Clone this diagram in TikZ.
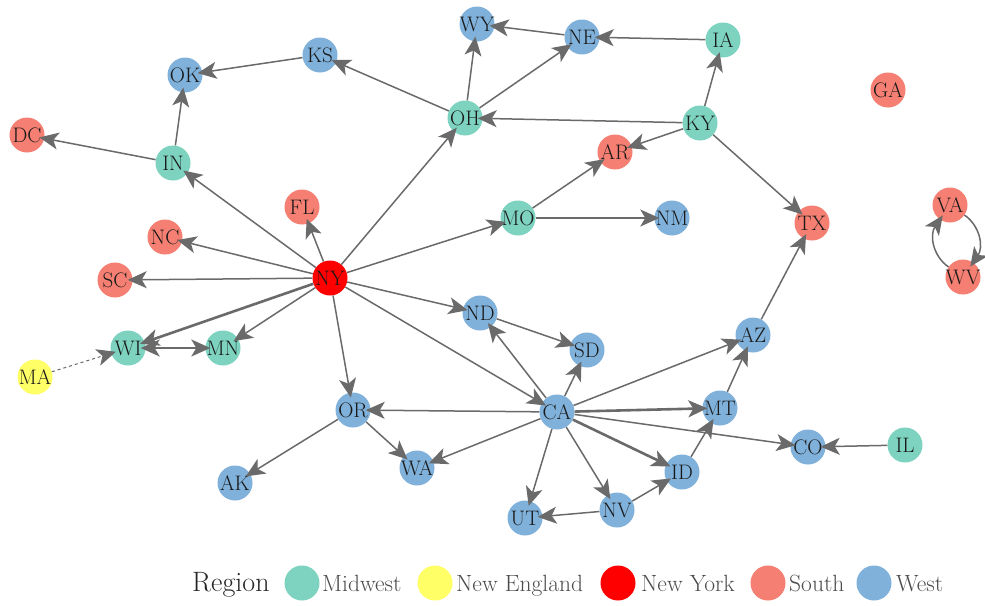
\documentclass[tikz,border=0pt]{standalone}
\usetikzlibrary{arrows.meta}
\definecolor{mw}{HTML}{7DD3C0}
\definecolor{ne}{HTML}{FFFF66}
\definecolor{nyc}{HTML}{FF0000}
\definecolor{so}{HTML}{F47F72}
\definecolor{we}{HTML}{80B1DA}
\definecolor{edgec}{HTML}{6A6A6A}
\tikzset{
  st/.style={circle,fill=#1,minimum size=35pt,inner sep=0pt},
  lbl/.style={font=\fontsize{21}{21}\selectfont,text=black!90,inner sep=0pt},
  edge/.style={draw=edgec,line width=1.5pt,shorten >=-5pt,
    -{Stealth[length=19pt,width=17pt,inset=5pt]}},
  thick edge/.style={edge,line width=2.6pt},
  leg/.style={anchor=base west,font=\fontsize{23.5}{24}\selectfont,text=black!70,inner sep=0pt},
  legdot/.style={circle,fill=#1,minimum size=35pt,inner sep=0pt}
}
\newcommand\stnode[4]{\node[st=#1,label={[lbl]center:#4}] (#4) at (#2,#3) {};}
\begin{document}
\begin{tikzpicture}[x=1pt,y=-1pt]
\useasboundingbox (0,0) rectangle (985,605);
\fill[white] (0,0) rectangle (985,605);
% nodes
\stnode{we}{185}{75}{OK}
\stnode{we}{320}{55}{KS}
\stnode{we}{477}{24}{WY}
\stnode{we}{582}{37}{NE}
\stnode{mw}{723}{40}{IA}
\stnode{so}{888}{90}{GA}
\stnode{mw}{700}{123}{KY}
\stnode{mw}{465}{118}{OH}
\stnode{so}{27}{135}{DC}
\stnode{mw}{173}{163}{IN}
\stnode{so}{615}{152}{AR}
\stnode{so}{302}{207}{FL}
\stnode{so}{165}{237}{NC}
\stnode{mw}{518}{218}{MO}
\stnode{we}{672}{218}{NM}
\stnode{so}{812}{223}{TX}
\stnode{so}{950}{205}{VA}
\stnode{so}{963}{277}{WV}
\stnode{so}{115}{280}{SC}
\stnode{nyc}{330}{278}{NY}
\stnode{we}{480}{313}{ND}
\stnode{mw}{128}{348}{WI}
\stnode{mw}{223}{348}{MN}
\stnode{ne}{35}{377}{MA}
\stnode{we}{353}{410}{OR}
\stnode{we}{417}{468}{WA}
\stnode{we}{235}{483}{AK}
\stnode{we}{587}{350}{SD}
\stnode{we}{753}{335}{AZ}
\stnode{we}{557}{412}{CA}
\stnode{we}{720}{408}{MT}
\stnode{we}{808}{447}{CO}
\stnode{mw}{905}{445}{IL}
\stnode{we}{682}{472}{ID}
\stnode{we}{617}{510}{NV}
\stnode{we}{525}{518}{UT}
% edges
\draw[edge] (KS) -- (OK);
\draw[edge] (IN) -- (OK);
\draw[edge] (IN) -- (DC);
\draw[edge] (OH) -- (KS);
\draw[edge] (OH) -- (WY);
\draw[edge] (OH) -- (NE);
\draw[edge] (NE) -- (WY);
\draw[edge] (IA) -- (NE);
\draw[edge] (KY) -- (IA);
\draw[edge] (KY) -- (OH);
\draw[edge] (KY) -- (AR);
\draw[edge] (KY) -- (TX);
\draw[edge] (MO) -- (AR);
\draw[edge] (MO) -- (NM);
\draw[edge] (NY) -- (MO);
\draw[edge] (NY) -- (OH);
\draw[edge] (NY) -- (IN);
\draw[edge] (NY) -- (FL);
\draw[edge] (NY) -- (NC);
\draw[edge] (NY) -- (SC);
\draw[thick edge] (NY) -- (WI);
\draw[edge] (NY) -- (MN);
\draw[edge] (NY) -- (OR);
\draw[edge] (NY) -- (ND);
\draw[edge] (NY) -- (CA);
\draw[edge,line width=1pt,dashed] (MA) -- (WI);
\draw[edge] (WI) -- (MN);
\draw[edge] (MN) -- (WI);
\draw[edge] (OR) -- (AK);
\draw[edge] (OR) -- (WA);
\draw[edge] (CA) -- (OR);
\draw[edge] (CA) -- (WA);
\draw[edge] (CA) -- (ND);
\draw[edge] (ND) -- (SD);
\draw[edge] (CA) -- (SD);
\draw[edge] (CA) -- (AZ);
\draw[thick edge] (CA) -- (MT);
\draw[thick edge] (CA) -- (ID);
\draw[edge] (CA) -- (NV);
\draw[edge] (CA) -- (UT);
\draw[edge] (CA) -- (CO);
\draw[edge] (IL) -- (CO);
\draw[edge] (MT) -- (AZ);
\draw[edge] (ID) -- (MT);
\draw[edge] (NV) -- (ID);
\draw[edge] (NV) -- (UT);
\draw[edge] (AZ) -- (TX);
\draw[edge] (VA) to[bend left=45] (WV);
\draw[edge] (WV) to[bend left=45] (VA);
% legend
\node[anchor=base west,font=\fontsize{28}{28}\selectfont,text=black!85,inner sep=0pt] (reg) at (192,591) {Region};
\node[legdot=mw] (lmw) at (302,583) {};
\node[leg] (tmw) at (322,591) {Midwest};
\node[legdot=ne] (lne) at (435,583) {};
\node[leg] (tne) at (456,591) {New England};
\node[legdot=nyc] (lny) at (618,583) {};
\node[leg] (tny) at (641,591) {New York};
\node[legdot=so] (lso) at (768,583) {};
\node[leg] (tso) at (789,591) {South};
\node[legdot=we] (lwe) at (874,583) {};
\node[leg] (twe) at (896,591) {West};
\end{tikzpicture}
\end{document}
